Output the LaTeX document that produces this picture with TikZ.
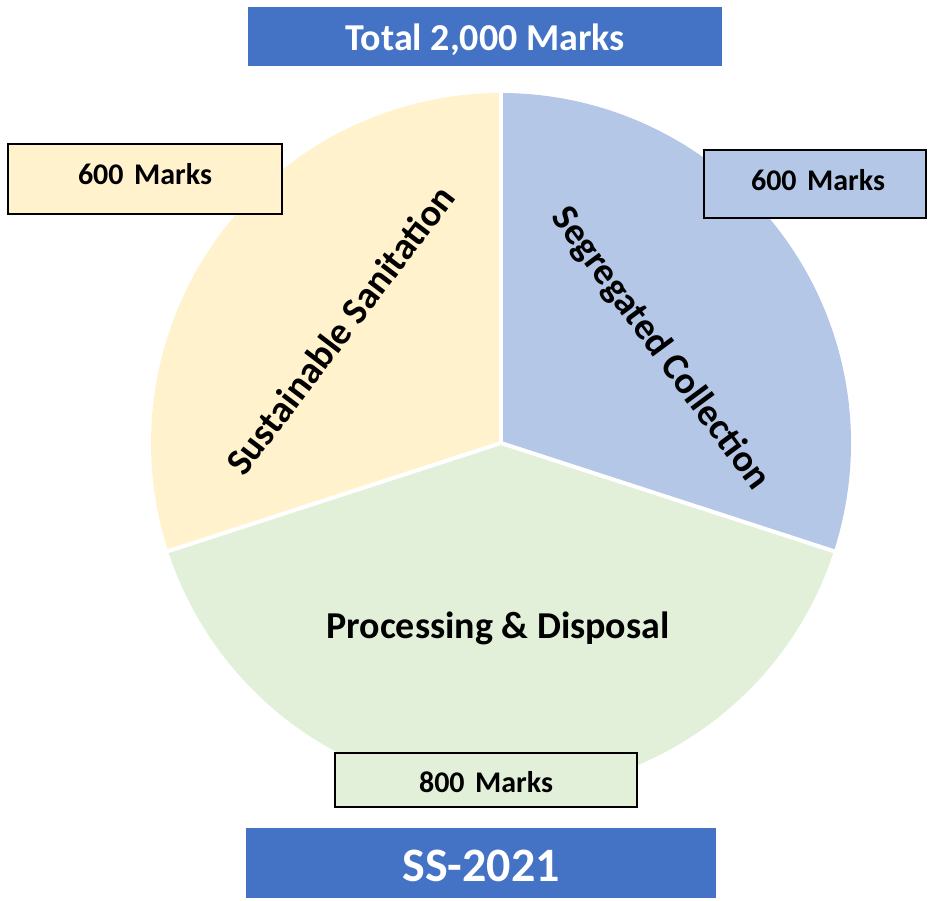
\documentclass[tikz,border=0pt]{standalone}
\usepackage{fontspec}
\setmainfont{Carlito}
\definecolor{titleblue}{HTML}{4472C4}
\definecolor{sliceyellow}{HTML}{FFF2CC}
\definecolor{sliceblue}{HTML}{B4C7E7}
\definecolor{slicegreen}{HTML}{E2F0D9}
\begin{document}
\begin{tikzpicture}[x=1pt,y=-1pt,
  banner/.style={fill=titleblue},
  markbox/.style={draw=black,line width=1.5pt},
  slicetext/.style={font=\fontsize{38}{44}\selectfont\bfseries},
  marktext/.style={font=\fontsize{30}{36}\selectfont\bfseries}]
\useasboundingbox (0,0) rectangle (928,900);
\coordinate (c) at (501,443);
% pie slices (y points down, so angles run clockwise)
\fill[sliceblue] (c) -- ++(-90:350) arc[start angle=-90,end angle=18,radius=350] -- cycle;
\fill[slicegreen] (c) -- ++(18:350) arc[start angle=18,end angle=162,radius=350] -- cycle;
\fill[sliceyellow] (c) -- ++(162:350) arc[start angle=162,end angle=270,radius=350] -- cycle;
\draw[white,line width=4pt] (c) -- ++(-90:352);
\draw[white,line width=4pt] (c) -- ++(18:352);
\draw[white,line width=4pt] (c) -- ++(162:352);
% slice labels
\node[slicetext,rotate=52.7] (ss) at (340,330) {Sustainable Sanitation};
\node[slicetext,rotate=-53.5] (sc) at (660,349) {Segregated Collection};
\node[slicetext] (pd) at (498,628) {Processing \& Disposal};
% mark boxes
\draw[markbox,fill=sliceyellow] (8,144) rectangle (282,214);
\node[marktext] (m1) at (145,174) {600\hspace{0.35em}Marks};
\draw[markbox,fill=sliceblue] (704,150) rectangle (926,218);
\node[marktext] (m2) at (818,180) {600\hspace{0.35em}Marks};
\draw[markbox,fill=slicegreen] (335,753) rectangle (637,807);
\node[marktext] (m3) at (486,782) {800\hspace{0.35em}Marks};
% banners
\fill[banner] (248,7) rectangle (722,66);
\node[text=white,font=\fontsize{38}{44}\selectfont\bfseries] (total) at (485,40) {Total 2,000 Marks};
\fill[banner] (246,828) rectangle (716,898);
\node[text=white,font=\fontsize{48}{56}\selectfont\bfseries] (year) at (481,866) {SS-2021};
\end{tikzpicture}
\end{document}
